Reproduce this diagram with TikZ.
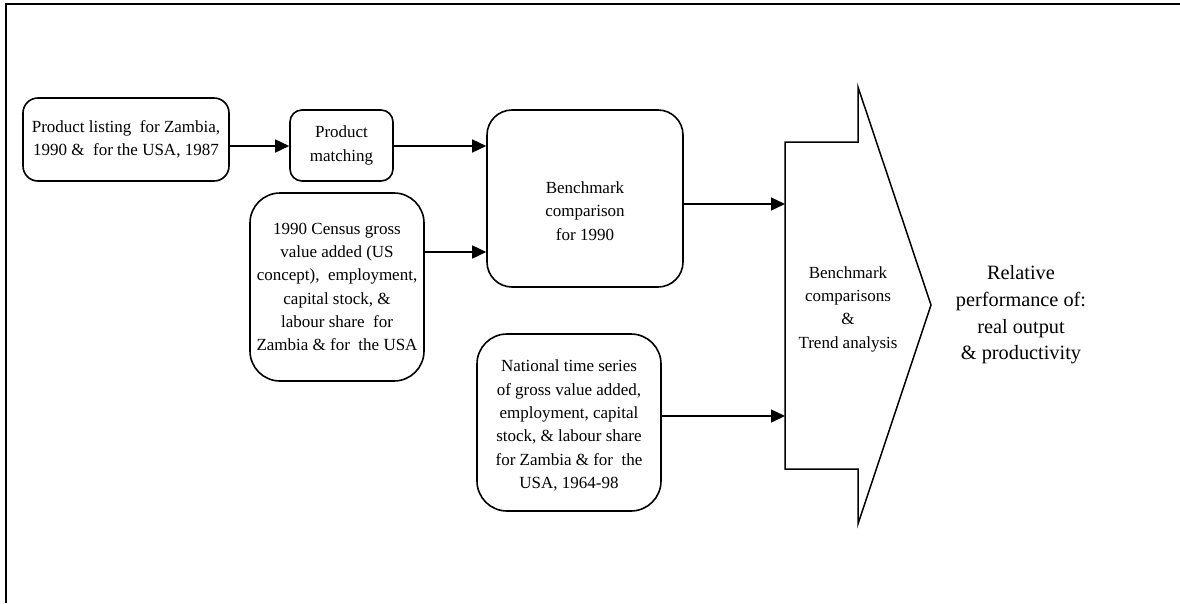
\documentclass[tikz,border=0pt]{standalone}
\usepackage{fontspec}
\setmainfont{Liberation Serif}
\usetikzlibrary{arrows.meta}
\newcommand\boxfont{\fontsize{17pt}{23.3pt}\selectfont}
\newcommand\bigfont{\fontsize{20.3pt}{26.7pt}\selectfont}
\tikzset{
  box/.style={draw, line width=1.6pt, rounded corners=#1, align=center,
              inner sep=0pt, font=\boxfont},
  conn/.style={line width=1.5pt, -{Triangle[length=14pt,width=13pt]}},
  frame/.style={line width=1.8pt},
  bigshape/.style={draw, line width=1.5pt, line join=miter},
  plain/.style={align=center, inner sep=0pt},
}
\begin{document}
\begin{tikzpicture}[x=1pt,y=-1pt]
\useasboundingbox (0,0) rectangle (1180,603);

% outer frame (left and top edges)
\draw[frame] (6,603) -- (6,4) -- (1180,4);

% input and intermediate boxes
\node[box=15pt, minimum width=206pt, minimum height=83pt] (b1) at (126,139.5)
  {Product listing\ \ for Zambia,\\ 1990 \&\ \ for the USA, 1987};
\node[box=12pt, minimum width=103pt, minimum height=71pt] (b2) at (341.5,145.5)
  {Product\\matching};
\node[box=25pt, minimum width=196pt, minimum height=177pt,
      label={[plain, font=\boxfont, yshift=-12.5pt]center:Benchmark\\comparison\\for 1990}]
  (b3) at (585,198.5) {};
\node[box=30pt, minimum width=174pt, minimum height=188pt] (b4) at (337,287)
  {1990 Census gross\\value added (US\\concept),\ \ employment,\\capital stock, \&\\labour share\ \ for\\Zambia \& for\ \ the USA};
\node[box=30pt, minimum width=184pt, minimum height=177pt,
      label={[plain, font=\boxfont, yshift=-3pt]center:National time series\\of gross value added,\\employment, capital\\stock, \& labour share\\for Zambia \& for\ \ the\\USA, 1964-98}]
  (b5) at (569,422.5) {};

% large block arrow
\coordinate (arrL) at (785,305);
\draw[bigshape] (785,142) -- (858,142) -- (858,87) -- (931,305)
  -- (858,524) -- (858,469) -- (785,469) -- cycle;
\node[plain, font=\boxfont] (bt) at (848,309)
  {Benchmark\\comparisons\\\&\\Trend analysis};

% result
\node[plain, font=\bigfont] (res) at (1021,315)
  {Relative\\performance of:\\real output\\\& productivity};

% connectors
\draw[conn] (b1.east |- 0,146) -- (b2.west |- 0,146);
\draw[conn] (b2.east |- 0,146) -- (b3.west |- 0,146);
\draw[conn] (b4.east |- 0,252) -- (b3.west |- 0,252);
\draw[conn] (b3.east |- 0,204) -- (arrL |- 0,204);
\draw[conn] (b5.east |- 0,416) -- (arrL |- 0,416);
\end{tikzpicture}
\end{document}
